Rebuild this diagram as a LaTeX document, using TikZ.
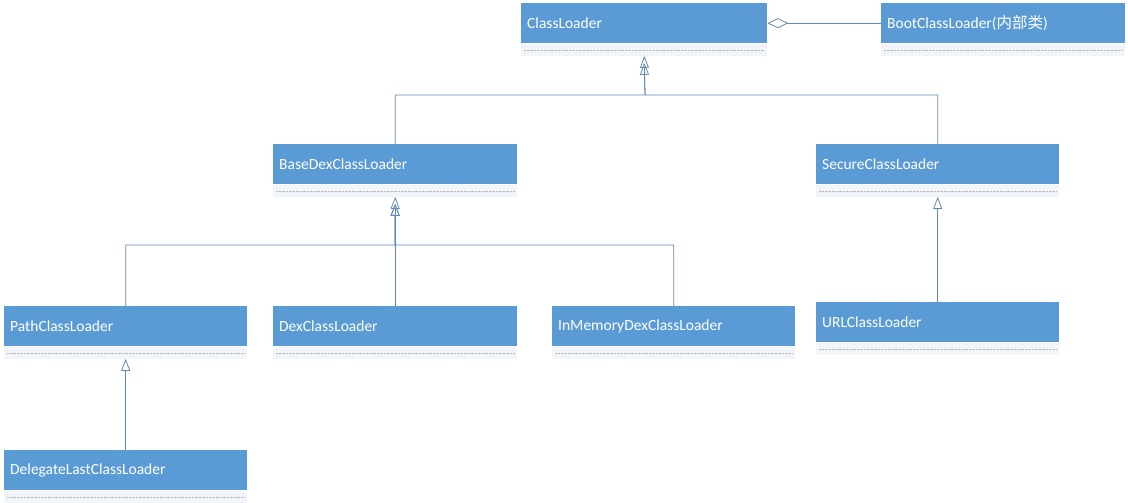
\documentclass[tikz,border=0pt]{standalone}
\usepackage{fontspec}
\setmainfont{Carlito}
\newfontfamily\cjk{Noto Sans CJK SC}
\usetikzlibrary{arrows.meta}
\definecolor{headblue}{HTML}{5B9BD5}
\definecolor{opsgray}{HTML}{F1F4F8}
\definecolor{linkblue}{HTML}{6289B3}

\begin{document}
\begin{tikzpicture}[x=1pt,y=-1pt,
    classhead/.style={rectangle,fill=headblue,text=white,anchor=north west,
      minimum height=40pt,inner xsep=6pt,inner ysep=0pt,
      font=\fontsize{15.5}{18}\selectfont},
    classops/.style={rectangle,fill=opsgray,minimum height=12pt,inner sep=0pt,anchor=north west},
    dotline/.style={draw=gray!55,line width=0.7pt,dash pattern=on 0.7pt off 0.7pt},
    inherit/.style={draw=linkblue,line width=0.8pt,
      -{Triangle[open,length=12pt,width=9pt]}},
    aggr/.style={draw=linkblue,line width=0.8pt,
      -{Diamond[open,length=21pt,width=10pt]}}]
  \useasboundingbox[fill=white] (0,0) rectangle (1128,503);

  \node[classhead,minimum width=246pt,text width=234pt] (loader) at (521,3) {ClassLoader};
  \node[classops,minimum width=246pt] (loader-b) at (loader.south west) {};
  \node[classhead,minimum width=244pt,text width=232pt] (boot) at (881,3) {BootClassLoader({\cjk 内部类})};
  \node[classops,minimum width=244pt] (boot-b) at (boot.south west) {};

  \node[classhead,minimum width=244pt,text width=232pt] (basedex) at (273,144) {BaseDexClassLoader};
  \node[classops,minimum width=244pt] (basedex-b) at (basedex.south west) {};
  \node[classhead,minimum width=243pt,text width=231pt] (secure) at (816,144) {SecureClassLoader};
  \node[classops,minimum width=243pt] (secure-b) at (secure.south west) {};

  \node[classhead,minimum width=243pt,text width=231pt] (path) at (4,306) {PathClassLoader};
  \node[classops,minimum width=243pt] (path-b) at (path.south west) {};
  \node[classhead,minimum width=244pt,text width=232pt] (dex) at (273,306) {DexClassLoader};
  \node[classops,minimum width=244pt] (dex-b) at (dex.south west) {};
  \node[classhead,minimum width=243pt,text width=231pt] (inmem) at (552,306) {InMemoryDexClassLoader};
  \node[classops,minimum width=243pt] (inmem-b) at (inmem.south west) {};
  \node[classhead,minimum width=243pt,text width=231pt] (url) at (816,302) {URLClassLoader};
  \node[classops,minimum width=243pt] (url-b) at (url.south west) {};

  \node[classhead,minimum width=243pt,text width=231pt] (delegate) at (4,450) {DelegateLastClassLoader};
  \node[classops,minimum width=243pt] (delegate-b) at (delegate.south west) {};

  % dotted lines in the empty compartments
  \foreach \c in {loader,boot,basedex,secure,path,dex,inmem,url,delegate}
    \draw[dotline] ([xshift=3pt,yshift=-7pt]\c.south west) -- ([xshift=-3pt,yshift=-7pt]\c.south east);

  \coordinate (top) at (645,95);
  \coordinate (mid) at (395,245);

  \path[aggr] (boot.west) -- (loader.east);

  \path[inherit] (basedex.north) |- (top) -- (loader-b.south);
  \path[inherit] (secure.north) |- (top) -- ([yshift=-7pt]loader-b.south);

  \path[inherit] (dex.north) -- (basedex-b.south);
  \path[inherit] (path.north) |- (mid) -- ([yshift=-7pt]basedex-b.south);
  \path[inherit] (inmem.north) |- (mid) -- ([yshift=-7pt]basedex-b.south);

  \path[inherit] (url.north) -- (secure-b.south);
  \path[inherit] (delegate.north) -- (path-b.south);
\end{tikzpicture}
\end{document}
